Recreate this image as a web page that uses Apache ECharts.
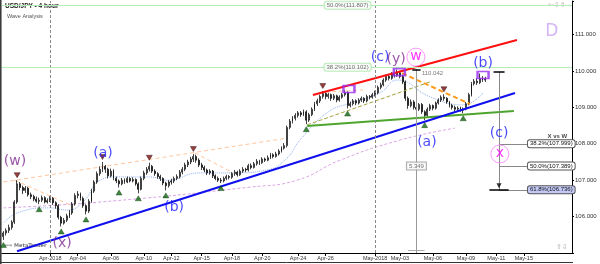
<!DOCTYPE html>
<html><head><meta charset="utf-8">
<script src="https://cdn.jsdelivr.net/npm/echarts/dist/echarts.min.js"></script>
<style>html,body{margin:0;padding:0;background:#fff}#c{width:600px;height:264px}</style>
</head><body><div id="c"></div>
<script>
// ---- data (4-hour USD/JPY bars: [open, close, low, high]) ----
const ohlc = [
[105.45,105.55,105.36,105.60],[105.55,105.62,105.48,105.68],[105.62,105.70,105.55,105.78],[105.70,105.85,105.64,105.90],
[105.85,106.40,105.80,106.45],[106.40,106.90,106.35,107.00],[106.90,106.80,106.72,106.95],[106.80,106.72,106.62,106.85],
[106.72,106.78,106.65,106.84],[106.78,106.60,106.55,106.82],[106.60,106.55,106.48,106.66],[106.55,106.48,106.42,106.60],
[106.48,106.42,106.38,106.55],[106.42,106.45,106.34,106.52],[106.45,106.52,106.40,106.58],[106.52,106.40,106.36,106.56],
[106.40,106.44,106.36,106.50],[106.44,106.50,106.40,106.56],[106.50,106.38,106.32,106.54],[106.38,106.30,106.22,106.42],
[106.30,105.98,105.92,106.34],[105.98,105.82,105.73,106.02],[105.82,105.90,105.78,105.96],[105.90,106.02,105.85,106.08],
[106.02,106.10,105.96,106.18],[106.10,106.35,106.05,106.40],[106.35,106.58,106.30,106.64],[106.58,106.62,106.50,106.70],
[106.62,106.50,106.44,106.66],[106.50,106.30,106.24,106.55],[106.30,106.15,106.06,106.34],[106.15,106.42,106.10,106.48],
[106.42,106.70,106.38,106.76],[106.70,106.95,106.65,107.00],[106.95,107.18,106.90,107.24],[107.18,107.30,107.12,107.38],
[107.30,107.38,107.22,107.50],[107.38,107.30,107.20,107.42],[107.30,107.12,107.05,107.34],[107.12,107.25,107.08,107.32],
[107.25,107.05,107.00,107.30],[107.05,106.98,106.92,107.10],[106.98,106.90,106.80,107.02],[106.90,107.00,106.86,107.06],
[107.00,106.95,106.90,107.05],[106.95,107.05,106.92,107.10],[107.05,106.98,106.94,107.08],[106.98,107.02,106.94,107.08],
[107.02,106.90,106.85,107.05],[106.90,106.75,106.64,106.94],[106.75,107.05,106.72,107.10],[107.05,107.20,107.00,107.26],
[107.20,107.30,107.15,107.36],[107.30,107.38,107.24,107.48],[107.38,107.25,107.20,107.42],[107.25,107.18,107.12,107.30],
[107.18,107.10,107.04,107.22],[107.10,107.05,106.98,107.15],[107.05,106.92,106.86,107.08],[106.92,106.85,106.72,106.96],
[106.85,106.95,106.80,107.00],[106.95,106.98,106.88,107.04],[106.98,107.05,106.92,107.10],[107.05,107.10,107.00,107.16],
[107.10,107.22,107.05,107.28],[107.22,107.30,107.16,107.36],[107.30,107.42,107.25,107.48],[107.42,107.50,107.36,107.56],
[107.50,107.58,107.44,107.64],[107.58,107.65,107.50,107.72],[107.65,107.55,107.48,107.70],[107.55,107.42,107.36,107.60],
[107.42,107.35,107.28,107.48],[107.35,107.28,107.22,107.40],[107.28,107.20,107.14,107.32],[107.20,107.25,107.15,107.30],
[107.25,107.12,107.06,107.28],[107.12,107.05,107.00,107.16],[107.05,107.00,106.95,107.10],[107.00,106.98,106.92,107.06],
[106.98,107.05,106.94,107.10],[107.05,107.10,107.00,107.15],[107.10,107.08,107.02,107.14],[107.08,107.18,107.04,107.22],
[107.18,107.22,107.12,107.28],[107.22,107.15,107.10,107.26],[107.15,107.25,107.12,107.30],[107.25,107.30,107.20,107.36],
[107.30,107.28,107.22,107.34],[107.28,107.40,107.24,107.45],[107.40,107.35,107.30,107.46],[107.35,107.45,107.32,107.50],
[107.45,107.52,107.40,107.58],[107.52,107.48,107.42,107.56],[107.48,107.58,107.45,107.63],[107.58,107.55,107.50,107.62],
[107.55,107.62,107.52,107.68],[107.62,107.70,107.58,107.75],[107.70,107.65,107.60,107.74],[107.65,107.72,107.62,107.78],
[107.72,107.80,107.68,107.85],[107.80,107.88,107.76,107.93],[107.88,107.95,107.84,108.02],[107.95,108.45,107.90,108.50],
[108.45,108.62,108.40,108.68],[108.62,108.70,108.56,108.76],[108.70,108.78,108.64,108.84],[108.78,108.85,108.72,108.90],
[108.85,108.80,108.74,108.90],[108.80,108.88,108.76,108.94],[108.88,108.65,108.54,108.92],[108.65,108.80,108.60,108.85],
[108.80,108.95,108.76,109.00],[108.95,109.10,108.90,109.15],[109.10,109.18,109.04,109.24],[109.18,109.30,109.12,109.35],
[109.30,109.38,109.24,109.45],[109.38,109.30,109.22,109.42],[109.30,109.35,109.24,109.40],[109.35,109.25,109.18,109.38],
[109.25,109.32,109.20,109.37],[109.32,109.20,109.14,109.35],[109.20,109.28,109.16,109.33],[109.28,109.35,109.24,109.40],
[109.35,109.40,109.30,109.47],[109.40,109.05,108.97,109.44],[109.05,109.10,109.00,109.16],[109.10,109.18,109.05,109.23],
[109.18,109.12,109.06,109.22],[109.12,109.20,109.08,109.25],[109.20,109.25,109.15,109.30],[109.25,109.18,109.12,109.28],
[109.18,109.30,109.14,109.35],[109.30,109.28,109.22,109.34],[109.28,109.35,109.24,109.40],[109.35,109.40,109.30,109.46],
[109.40,109.55,109.36,109.60],[109.55,109.62,109.50,109.68],[109.62,109.75,109.58,109.80],[109.75,109.85,109.70,109.90],
[109.85,109.80,109.74,109.90],[109.80,109.92,109.76,109.97],[109.92,109.88,109.82,109.98],[109.88,109.95,109.84,110.04],
[109.95,109.85,109.80,110.00],[109.85,109.70,109.64,109.90],[109.70,109.25,109.18,109.74],[109.25,109.05,108.96,109.30],
[109.05,109.15,109.00,109.22],[109.15,109.00,108.94,109.20],[109.00,108.95,108.88,109.06],[108.95,109.08,108.90,109.12],
[109.08,108.88,108.82,109.12],[108.88,108.78,108.65,108.92],[108.78,108.95,108.74,109.00],[108.95,109.05,108.90,109.10],
[109.05,108.98,108.92,109.08],[108.98,109.12,108.94,109.16],[109.12,109.20,109.08,109.25],[109.20,109.28,109.15,109.33],
[109.28,109.25,109.18,109.36],[109.25,109.15,109.10,109.28],[109.15,109.05,109.00,109.18],[109.05,109.00,108.94,109.10],
[109.00,108.95,108.90,109.05],[108.95,108.98,108.90,109.03],[108.98,108.92,108.88,109.02],[108.92,108.95,108.84,109.00],
[108.95,109.10,108.92,109.15],[109.10,109.35,109.06,109.40],[109.35,109.65,109.30,109.70],[109.65,109.72,109.60,109.78],
[109.72,109.68,109.62,109.80],[109.68,109.80,109.64,109.93],[109.80,109.75,109.70,109.86],[109.75,109.78,109.70,109.84]
];
const nSlots = 207;                       // bar slots incl. empty future space
const xTickBars   = [17,27,39,51,61,72,83,94,107,117,135,144,156,168,179,189];
const xTickLabels = ['Apr-2018','Apr-04','Apr-06','Apr-10','Apr-12','Apr-15','Apr-18','Apr-20','Apr-24','Apr-26','May-2018','May-03','May-06','May-09','May-11','May-15'];
const periodBars  = [17,135];
const fractalLows  = [0,13,21,30,42,49,59,79,110,125,153,167];
const fractalHighs = [5,36,53,69,116,160];
const redLine    = [[112.4,109.34],[186.5,110.85]];
const blueLine   = [[4.95,105.05],[185.8,109.395]];
const greenLine  = [[110.3,108.49],[185.4,108.90]];
const orangeLine = [[144.8,109.94],[169.5,109.09]];
const oliveLine  = [[110.3,108.52],[154.9,109.70]];
const peachLines = [
  [[4.2,107.00],[24.2,106.32]],
  [[0,106.95],[103.4,108.16]],
  [[69.6,107.75],[83.4,107.20]],
  [[116.8,109.42],[130.6,109.48]]
];
const fastMA = [[0,105.82],[6,106.13],[16.9,106.24],[23.1,106.18],[28.9,106.40],[35.1,107.0],[41.3,107.09],[53.2,107.09],[59.4,107.0],[71.4,107.20],[83.4,107.20],[95.7,107.28],[103,107.61],[107.7,108.10],[117.5,108.85],[125.9,109.12],[136.8,109.40],[143,109.75],[155,109.29],[166.9,109.07],[174.2,109.40]];
const slowMA = [[0,106.24],[35.1,106.40],[89.6,106.81],[106.6,107.0],[122.3,107.55],[144,108.10],[164,108.43]];
const blueWaves   = [['(a)',36.2,107.75],['(b)',62,106.26],['(c)',136.8,110.38],['(a)',153.8,108.05],['(b)',174.2,110.22],['(c)',180,108.30]];
const purpleWaves = [['(w)',4.2,107.53],['(x)',21.3,105.27],['(y)',142.6,110.33]];
const circleWaves = [['w',149.8,110.38],['x',180.3,107.72]];
const bigLabel    = [['D',199.2,111.07]];
const boxes       = [[125.5,109.505],[143.8,109.97],[174.2,109.89]];
const topFibs     = [['50.0%',111.807],['38.2%',110.102]];
const topFibLabelBar = 125.0;
const xwFibs      = [['38.2%',107.999],['50.0%',107.389],['61.8%',106.736]];
const xwTop = 109.974, xwBar = 180, xwLabelBar = 190.5;
const priceTags   = [109.932,109.780,109.420,108.535];
const measure = {bar:150, top:110.042, bottom:105.0, value:'5.349', mid:107.39};
const xwTitle = ['X vs W',201.2,108.21];

// ---- chart ----
const FONT = 'Liberation Sans';
const chart = echarts.init(document.getElementById('c'), null, {renderer:'canvas'});
const cats = Array.from({length:nSlots}, (_, i) => String(i));
const tickMap = new Map(xTickBars.map((b,i)=>[b, xTickLabels[i]]));
const tr = 'rgba(0,0,0,0)';

function lineS(data, color, width, type, z, smooth) {
  return {type:'line', xAxisIndex:1, data, symbol:'none', silent:true, smooth:!!smooth,
    lineStyle:{color, width, type}, z:z||4, animation:false};
}
function textS(items, color, size, extra, z) {
  return {type:'scatter', xAxisIndex:1, symbolSize:1, itemStyle:{color:tr}, silent:true, z:z||7, animation:false,
    data: items.map(d=>({value:[d[1],d[2]], label:{formatter:d[0]}})),
    label:Object.assign({show:true, position:'inside', color, fontSize:size, fontFamily:'DejaVu Sans'}, extra||{})};
}
const tagStyle = (bg, bc) => ({show:true, position:'end', distance:1, fontSize:6, fontFamily:FONT, color:'#111',
  backgroundColor:bg, borderColor:bc, borderWidth:1, borderRadius:2, padding:[1,2,0,2]});

const tagColors = [['#cfe0f2','#777'],['#b9bdf0','#333'],['#ffffff','#222'],['#ffffff','#222']];

const series = [
  {type:'candlestick', xAxisIndex:0, data:ohlc, barWidth:1.4, z:3, animation:false,
   itemStyle:{color:'#ffffff', color0:'#111111', borderColor:'#111', borderColor0:'#111', borderWidth:0.8}},
  // helper carrying separators, fib lines, price tags
  Object.assign(lineS([[0,null]], tr, 0, 'solid', 2), {
    markLine:{symbol:'none', silent:true, animation:false,
      data:[
        ...periodBars.map(b=>({xAxis:b, lineStyle:{type:[3,2], color:'#888', width:1}, label:{show:false}})),
        ...topFibs.map(f=>({yAxis:f[1], lineStyle:{type:'solid', color:'#b4eeb4', width:1}, label:{show:false}})),
        ...priceTags.map((p,i)=>({yAxis:p, lineStyle:{opacity:0}, label:Object.assign(tagStyle(tagColors[i][0], tagColors[i][1]), {formatter:p.toFixed(3), offset:[0, i===1?4:0]})})),
        ...xwFibs.map((f,i)=>[
          {coord:[xwBar, f[1]], lineStyle:{type:'solid', color:'#888', width:1},
           label:Object.assign(tagStyle(i===2?'#c3c8f5':'#fff','#555'), {formatter:f[0]+'('+f[1].toFixed(3)+')', distance:0})},
          {coord:[xwLabelBar, f[1]]}]),
        [{coord:[xwBar, xwTop], lineStyle:{type:'solid', color:'#888', width:1}, label:{show:false}},{coord:[xwBar, xwFibs[2][1]]}],
        [{coord:[xwBar-2, xwTop], lineStyle:{type:'solid', color:'#000', width:1.5}, label:{show:false}},{coord:[xwBar+2, xwTop]}],
        [{coord:[xwBar-3.5, xwFibs[2][1]], lineStyle:{type:'solid', color:'#000', width:1.5}, label:{show:false}},{coord:[xwBar+3.5, xwFibs[2][1]]}],
        [{coord:[measure.bar, measure.top], lineStyle:{type:'solid', color:'#999', width:1}, label:{show:false}},{coord:[measure.bar, measure.bottom]}],
        [{coord:[measure.bar-1.5, measure.top], lineStyle:{type:'solid', color:'#000', width:1.5}, label:{show:false}},{coord:[measure.bar+1.5, measure.top]}],
        [{coord:[measure.bar-3, measure.bottom+0.08], lineStyle:{type:'solid', color:'#aaa', width:1}, label:{show:false}},{coord:[measure.bar+3, measure.bottom+0.08]}]
      ]}
  }),
  lineS(fastMA, '#8fb0f0', 1, 'dotted', 2, true),
  lineS(slowMA, '#dca6e6', 1, [3,2], 2, true),
  ...peachLines.map(l=>lineS(l, '#ffc59c', 1, [4,3], 2)),
  lineS(oliveLine, '#a5a540', 1, [4,2], 4),
  lineS(orangeLine, '#ff9a1a', 2, [5,3], 4),
  lineS(greenLine, '#4ea52e', 2, 'solid', 4),
  lineS(blueLine, '#1010ee', 2, 'solid', 4),
  lineS(redLine, '#ff1010', 2, 'solid', 4),
  // fractal markers
  {type:'scatter', xAxisIndex:1, symbol:'triangle', symbolSize:[6,5], symbolOffset:[0,5], silent:true, z:5, animation:false,
   itemStyle:{color:'#0f690f', borderColor:'#063a06', borderWidth:0.5},
   data:fractalLows.map(b=>[b, ohlc[b][2]])},
  {type:'scatter', xAxisIndex:1, symbol:'triangle', symbolRotate:180, symbolSize:[6,5], symbolOffset:[0,-5], silent:true, z:5, animation:false,
   itemStyle:{color:'#7a1010', borderColor:'#200', borderWidth:0.5},
   data:fractalHighs.map(b=>[b, ohlc[b][3]])},
  // arrow of the X vs W tool
  {type:'scatter', xAxisIndex:1, symbol:'triangle', symbolRotate:180, symbolSize:[5,5], symbolOffset:[0,-4], silent:true, z:5, animation:false,
   itemStyle:{color:'#000'}, data:[[xwBar, xwFibs[2][1]]]},
  // purple boxes
  {type:'scatter', xAxisIndex:1, symbol:'rect', symbolSize:[11,7], silent:true, z:6, animation:false,
   itemStyle:{color:tr, borderColor:'#9a2cf0', borderWidth:2}, data:boxes},
  // circles
  {type:'scatter', xAxisIndex:1, symbol:'circle', symbolSize:18, silent:true, z:6, animation:false,
   itemStyle:{color:tr, borderColor:'#ff80ff', borderWidth:1},
   data:circleWaves.map(d=>({value:[d[1],d[2]], label:{formatter:d[0]}})),
   label:{show:true, position:'inside', color:'#ff00ff', fontSize:14, fontFamily:'DejaVu Sans', offset:[0,-1]}},
  textS(blueWaves, '#1a1aff', 14),
  textS(purpleWaves, '#802a90', 14),
  textS(bigLabel, '#c9a2f2', 17),
  textS(topFibs.map(f=>[f[0]+'('+f[1].toFixed(3)+')', topFibLabelBar, f[1]]), '#444', 6,
    {fontFamily:FONT, backgroundColor:'#fff', borderColor:'#a8e6a8', borderWidth:1, borderRadius:2, padding:[1,2,0,2]}),
  textS([[measure.value, measure.bar, measure.mid]], '#444', 6,
    {fontFamily:FONT, backgroundColor:'#fff', borderColor:'#999', borderWidth:1, padding:[1,2,0,2]}),
  textS([[measure.top.toFixed(3), measure.bar+1.8, measure.top-0.12]], '#555', 6, {fontFamily:FONT, position:'right', distance:0}),
  textS([xwTitle], '#111', 6, {fontFamily:FONT, fontWeight:'bold'})
];

chart.setOption({
  animation:false,
  backgroundColor:'#fff',
  grid:{left:2, right:28, top:1, bottom:11, containLabel:false, outerBoundsMode:'none'},
  xAxis:[
    {type:'category', data:cats, boundaryGap:true,
     axisLine:{onZero:false, lineStyle:{color:'#000', width:1}},
     axisTick:{show:true, alignWithLabel:true, interval:(i)=>tickMap.has(i), length:3, lineStyle:{color:'#000'}},
     axisLabel:{interval:(i)=>tickMap.has(i), formatter:(v)=>tickMap.get(+v)||'', fontSize:5.5, color:'#333', margin:2, fontFamily:FONT, hideOverlap:false},
     splitLine:{show:false}},
    {type:'value', min:-0.5, max:nSlots-0.5, show:false, splitLine:{show:false}}
  ],
  yAxis:{type:'value', position:'right', min:105, max:111.923, interval:1,
    axisLine:{show:true, onZero:false, lineStyle:{color:'#000'}},
    axisTick:{show:true, length:2, lineStyle:{color:'#000'}},
    axisLabel:{fontSize:6, color:'#333', margin:3, fontFamily:FONT, formatter:v=>(v>105.5 && v<111.5)?v.toFixed(3):''},
    splitLine:{show:false}},
  series,
  graphic:[
    {type:'text', left:5, top:3, style:{text:'USD/JPY - 4 hour', fontSize:6.5, fontWeight:'bold', fontFamily:FONT, fill:'#222'}},
    {type:'text', left:7, top:13, style:{text:'Wave Analysis', fontSize:5.5, fontFamily:FONT, fill:'#555'}},
    {type:'text', left:4, top:243, style:{text:'⇦⇨ MetaTrader', fontSize:5, fontWeight:'bold', fontFamily:'DejaVu Sans', fill:'#777'}},
    {type:'text', left:548, top:2, style:{text:'⇦⇩⇧', fontSize:7, fontFamily:'DejaVu Sans', fill:'#aaa'}},
    {type:'text', left:556, top:244, style:{text:'⇧⇩', fontSize:7, fontFamily:'DejaVu Sans', fill:'#aaa'}},
    {type:'line', shape:{x1:0.8, y1:0, x2:0.8, y2:264}, style:{stroke:'#333', lineWidth:1.5}},
    {type:'line', shape:{x1:0, y1:262.5, x2:573, y2:262.5}, style:{stroke:'#333', lineWidth:1}}
  ]
});
</script></body></html>
